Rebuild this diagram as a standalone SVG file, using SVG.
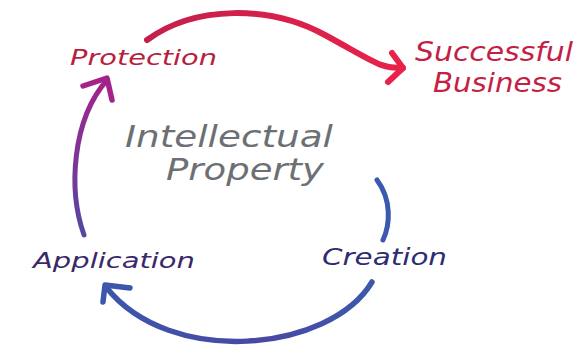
<svg xmlns="http://www.w3.org/2000/svg" width="581" height="353" viewBox="0 0 581 353">
<defs>
<linearGradient id="gTop" x1="147" y1="0" x2="403" y2="0" gradientUnits="userSpaceOnUse">
<stop offset="0" stop-color="#c41f4c"/><stop offset="1" stop-color="#e8224a"/>
</linearGradient>
<linearGradient id="gLeft" x1="0" y1="80" x2="0" y2="235" gradientUnits="userSpaceOnUse">
<stop offset="0" stop-color="#a3238a"/><stop offset="1" stop-color="#5547a2"/>
</linearGradient>
<linearGradient id="gBot" x1="105" y1="0" x2="372" y2="0" gradientUnits="userSpaceOnUse">
<stop offset="0" stop-color="#3b56ab"/><stop offset="0.6" stop-color="#4a48a3"/><stop offset="1" stop-color="#3c58ac"/>
</linearGradient>
<style>
.arc{fill:none;stroke-linecap:round;stroke-linejoin:round}
.t{font-family:"DejaVu Sans","Liberation Sans",sans-serif;font-style:italic}
</style>
</defs>
<g id="connectors">
<path class="arc" d="M147,40 C195,5 270,5 325,35 S380,68 403,68" stroke="url(#gTop)" stroke-width="6"/>
<polyline class="arc" points="392,53 403,68 388,82" stroke="#e8224a" stroke-width="6"/>
<path class="arc" d="M84,235 C68,190 72,120 107,80" stroke="url(#gLeft)" stroke-width="5"/>
<polyline class="arc" points="83,86 107,78 112,100" stroke="#a3238a" stroke-width="5.5"/>
<path class="arc" d="M377,180 C392,200 390,225 383,240" stroke="#3b59ad" stroke-width="5"/>
<path class="arc" d="M372,282 C330,352 170,368 106,287" stroke="url(#gBot)" stroke-width="5.5"/>
<polyline class="arc" points="130,288 105,285 103,302" stroke="#3b56ab" stroke-width="5.5"/>
</g>
<g id="center"><text class="t" x="125" y="147" font-size="30" fill="#6c7075" textLength="208" lengthAdjust="spacingAndGlyphs">Intellectual</text>
<text class="t" x="166" y="180" font-size="30" fill="#6c7075" textLength="158" lengthAdjust="spacingAndGlyphs">Property</text></g>
<g id="protection"><text class="t" x="70" y="65" font-size="21" fill="#b81e3e" textLength="147" lengthAdjust="spacingAndGlyphs">Protection</text></g>
<g id="business"><text class="t" x="415" y="61" font-size="26" fill="#c41f45" textLength="158" lengthAdjust="spacingAndGlyphs">Successful</text>
<text class="t" x="433" y="92" font-size="26" fill="#c41f45" textLength="129" lengthAdjust="spacingAndGlyphs">Business</text></g>
<g id="application"><text class="t" x="33" y="268" font-size="22" fill="#3a2868" textLength="162" lengthAdjust="spacingAndGlyphs">Application</text></g>
<g id="creation"><text class="t" x="322" y="265" font-size="23" fill="#2c2b74" textLength="125" lengthAdjust="spacingAndGlyphs">Creation</text></g>
</svg>
